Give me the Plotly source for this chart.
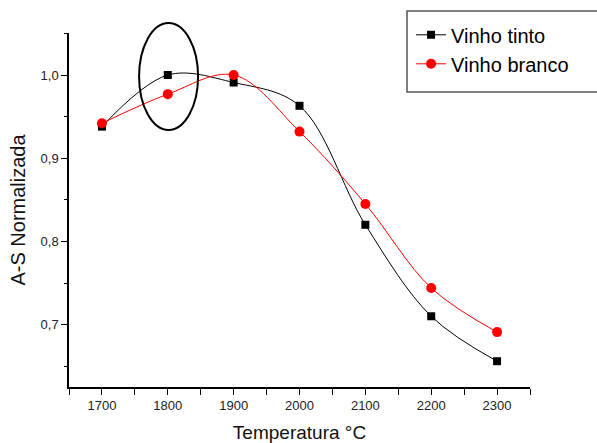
import plotly.graph_objects as go

# Temperatures (°C) and normalized A-S signal
temperatura = [1700, 1800, 1900, 2000, 2100, 2200, 2300]
vinho_tinto = [0.938, 1.000, 0.991, 0.963, 0.820, 0.710, 0.656]
vinho_branco = [0.942, 0.977, 1.000, 0.932, 0.845, 0.744, 0.691]

FONT = "Liberation Sans, Arial, sans-serif"

fig = go.Figure()
fig.add_trace(go.Scatter(
    x=temperatura, y=vinho_tinto, name="Vinho tinto",
    mode="lines+markers", line=dict(color="black", width=1, shape="spline"),
    marker=dict(symbol="square", size=8, color="black"),
    cliponaxis=False,
))
fig.add_trace(go.Scatter(
    x=temperatura, y=vinho_branco, name="Vinho branco",
    mode="lines+markers", line=dict(color="red", width=1, shape="spline"),
    marker=dict(symbol="circle", size=10, color="red"),
    cliponaxis=False,
))

# Ellipse highlighting the 1800 °C point, and the legend frame
fig.add_shape(type="circle", xref="paper", yref="paper",
              x0=0.152, x1=0.280, y0=0.726, y1=1.028,
              line=dict(color="black", width=2))
fig.add_shape(type="rect", xref="paper", yref="paper",
              x0=0.7332, x1=1.16, y0=0.8333, y1=1.062,
              line=dict(color="#555555", width=1.5))

fig.update_layout(
    width=597, height=443,
    margin=dict(l=69, r=67, t=33, b=56, autoexpand=False),
    paper_bgcolor="white", plot_bgcolor="white",
    font=dict(family=FONT, color="#111111", size=13),
    separators=", ",
    showlegend=True,
    legend=dict(x=0.742, y=1.05, xanchor="left", yanchor="top",
                bgcolor="rgba(0,0,0,0)", borderwidth=0,
                font=dict(family=FONT, size=20, color="black"),
                tracegroupgap=0),
    xaxis=dict(
        range=[1650, 2350], tick0=1700, dtick=100, automargin=False,
        showline=True, linecolor="black", linewidth=1.5,
        ticks="outside", ticklen=6, tickwidth=1.2, tickcolor="black",
        minor=dict(dtick=50, tick0=1650, ticks="outside", ticklen=6,
                   tickwidth=1.2, tickcolor="black"),
        showgrid=False, zeroline=False,
        tickfont=dict(size=13, color="#222222"),
        title=dict(text="Temperatura °C", font=dict(size=19, color="#111111"),
                   standoff=14),
    ),
    yaxis=dict(
        range=[0.625, 1.0505], tick0=0.7, dtick=0.1, tickformat=".1f",
        automargin=False,
        showline=True, linecolor="black", linewidth=1.5,
        ticks="outside", ticklen=6, tickwidth=1.2, tickcolor="black",
        minor=dict(dtick=0.05, tick0=0.65, ticks="outside", ticklen=3,
                   tickwidth=1.2, tickcolor="black"),
        showgrid=False, zeroline=False,
        tickfont=dict(size=13, color="#222222"),
        title=dict(text="A-S Normalizada", font=dict(size=20, color="#111111"),
                   standoff=10),
    ),
)

fig.write_html("out.html")
